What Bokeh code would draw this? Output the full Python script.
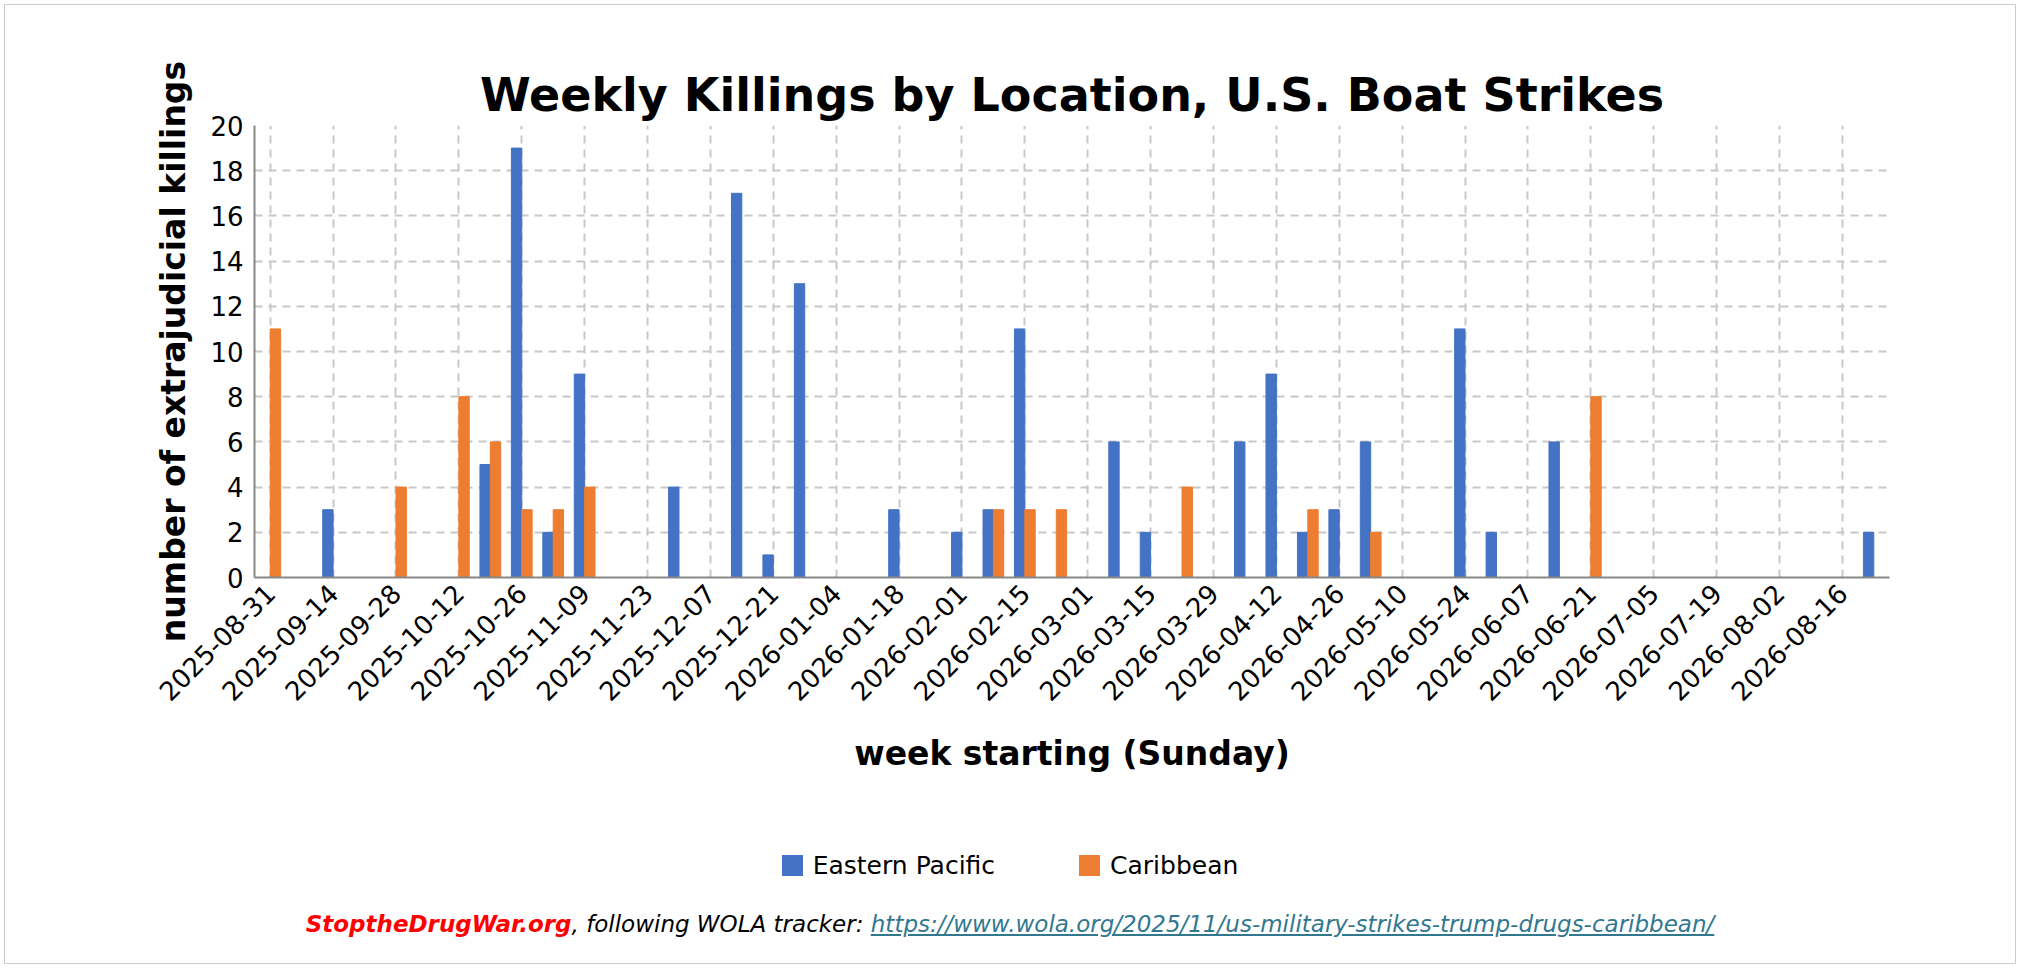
from bokeh.plotting import figure
from bokeh.models import Div, FixedTicker
from bokeh.layouts import column
from bokeh.embed import file_html
from bokeh.resources import INLINE
import datetime as dt

weeks = [(dt.date(2025, 8, 31) + dt.timedelta(weeks=i)).isoformat() for i in range(52)]

# week index -> killings
eastern_pacific = {2: 3, 7: 5, 8: 19, 9: 2, 10: 9, 13: 4, 15: 17, 16: 1, 17: 13,
                   20: 3, 22: 2, 23: 3, 24: 11, 27: 6, 28: 2, 31: 6, 32: 9, 33: 2,
                   34: 3, 35: 6, 38: 11, 39: 2, 41: 6, 51: 2}
caribbean = {0: 11, 4: 4, 6: 8, 7: 6, 8: 3, 9: 3, 10: 4, 23: 3, 24: 3, 25: 3,
             29: 4, 33: 3, 35: 2, 42: 8}

ep = [eastern_pacific.get(i, 0) for i in range(len(weeks))]
ca = [caribbean.get(i, 0) for i in range(len(weeks))]
idx = list(range(len(weeks)))

BLUE = "#4472c4"
ORANGE = "#ed7d31"

p = figure(width=2000, height=802, output_backend="svg", toolbar_location=None,
           x_range=(-0.5, 51.5), y_range=(0, 20),
           min_border_left=249, min_border_top=120, min_border_right=116, min_border_bottom=230)
p.title.text = "Weekly Killings by Location, U.S. Boat Strikes"
p.title.align = "center"
p.title.text_font = "DejaVu Sans"
p.title.text_font_size = "46px"
p.title.text_color = "black"
p.title.standoff = 8

p.vbar(x=[i - 0.165 for i in idx], top=ep, width=0.33, color=BLUE)
p.vbar(x=[i + 0.165 for i in idx], top=ca, width=0.33, color=ORANGE)

p.xaxis.ticker = FixedTicker(ticks=idx[::2])
p.xaxis.major_label_overrides = {i: weeks[i] for i in idx[::2]}
p.xaxis.major_label_orientation = 0.785
p.yaxis.ticker = FixedTicker(ticks=list(range(0, 21, 2)))

for ax in (p.xaxis, p.yaxis):
    ax.major_label_text_font = "DejaVu Sans"
    ax.major_label_text_font_size = "26px"
    ax.major_label_text_color = "black"
    ax.axis_label_text_font = "DejaVu Sans"
    ax.axis_label_text_font_size = "33px"
    ax.axis_label_text_font_style = "bold"
    ax.axis_label_text_color = "black"
    ax.axis_line_color = "#888888"
    ax.axis_line_width = 2
    ax.major_tick_line_color = None
    ax.minor_tick_line_color = None
p.xaxis.axis_label = "week starting (Sunday)"
p.yaxis.axis_label = "number of extrajudicial killings"
p.xaxis.axis_label_standoff = 22
p.yaxis.axis_label_standoff = 14

p.grid.grid_line_color = "#c8c8c8"
p.grid.grid_line_dash = "8 6"
p.grid.grid_line_width = 2
p.outline_line_color = None

sq = "display:inline-block;width:21px;height:21px;vertical-align:-2px;margin-right:10px;"
div = Div(width=2000, height=146, text=f"""
<div style="font-family:'DejaVu Sans';font-size:25px;text-align:center;width:2000px;margin-top:36px;">
<span style="{sq}background:{BLUE}"></span>Eastern Pacific
<span style="{sq}background:{ORANGE};margin-left:76px"></span>Caribbean
</div>
<div style="font-family:'DejaVu Sans';font-size:23px;font-style:italic;text-align:center;width:2000px;margin-top:24px;">
<span style="color:#ff0000;font-weight:bold">StoptheDrugWar.org</span>, following WOLA tracker:
<span style="color:#31788f;text-decoration:underline">https://www.wola.org/2025/11/us-military-strikes-trump-drugs-caribbean/</span>
</div>""")

layout = column(p, div, styles={"border": "1px solid #cccccc", "margin": "4px"})
open("out.html", "w").write(file_html(layout, INLINE))
